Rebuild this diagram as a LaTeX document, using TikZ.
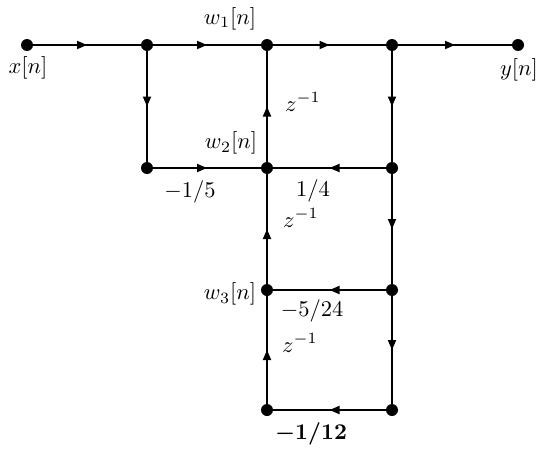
\documentclass[tikz,border=0pt]{standalone}
\usepackage{bm}
\usetikzlibrary{arrows.meta,decorations.markings}
\begin{document}
\begin{tikzpicture}[x=1pt,y=-1pt,
  dot/.style={circle,fill=black,draw=none,inner sep=0pt,minimum size=12pt},
  sfgedge/.style={line width=1.8pt,postaction={decorate},
    decoration={markings,mark=at position 0.5 with {\arrow{Triangle[length=10pt,width=8pt]}}}},
  lbl/.style={scale=2.25,inner sep=0pt}]
\useasboundingbox (0,0) rectangle (539,450);
% nodes
\node[dot] (x) at (27,45) {};
\node[dot] (a) at (147,45) {};
\node[dot] (b) at (267,45) {};
\node[dot] (c) at (392,45) {};
\node[dot] (y) at (518,45) {};
\node[dot] (d) at (147,168) {};
\node[dot] (e) at (267,168) {};
\node[dot] (f) at (392,168) {};
\node[dot] (g) at (267,290) {};
\node[dot] (h) at (392,290) {};
\node[dot] (i) at (267,410) {};
\node[dot] (j) at (392,410) {};
% edges
\draw[sfgedge] (x) -- (a);
\draw[sfgedge] (a) -- (b);
\draw[sfgedge] (b) -- (c);
\draw[sfgedge] (c) -- (y);
\draw[sfgedge] (a) -- (d);
\draw[sfgedge] (d) -- (e);
\draw[sfgedge] (e) -- (b);
\draw[sfgedge] (c) -- (f);
\draw[sfgedge] (f) -- (e);
\draw[sfgedge] (g) -- (e);
\draw[sfgedge] (f) -- (h);
\draw[sfgedge] (h) -- (g);
\draw[sfgedge] (i) -- (g);
\draw[sfgedge] (h) -- (j);
\draw[sfgedge] (j) -- (i);
% labels
\node[lbl] (lx) at (28,68) {$x[n]$};
\node[lbl] (ly) at (519,70) {$y[n]$};
\node[lbl] (lw1) at (230,19) {$w_1[n]$};
\node[lbl] (lw2) at (231,143) {$w_2[n]$};
\node[lbl] (lw3) at (230,294) {$w_3[n]$};
\node[lbl] (lz1) at (303,102) {$z^{-1}$};
\node[lbl] (lz2) at (301,218) {$z^{-1}$};
\node[lbl] (lz3) at (300,343) {$z^{-1}$};
\node[lbl] (l15) at (190,192) {$-1/5$};
\node[lbl] (l14) at (313,191) {$1/4$};
\node[lbl] (l524) at (312,311) {$-5/24$};
\node[lbl] (l112) at (311,434) {$\bm{-1/12}$};
\end{tikzpicture}
\end{document}
